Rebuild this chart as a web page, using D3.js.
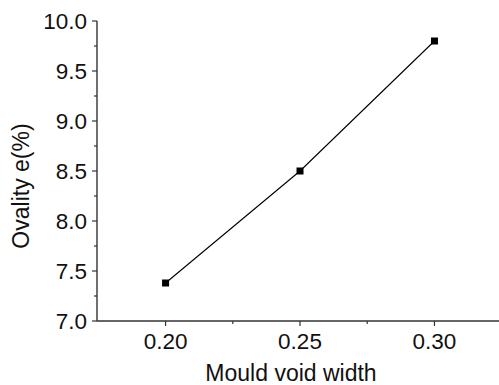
<!DOCTYPE html>
<html>
<head>
<meta charset="utf-8">
<script src="https://cdn.jsdelivr.net/npm/d3@7"></script>
<style>
  body { margin: 0; background: #fff; }
  svg { display: block; }
  text { font-family: "Liberation Sans", Arial, sans-serif; fill: #111; }
</style>
</head>
<body>
<svg id="chart" width="499" height="385"></svg>
<script>
// data
const voidWidth = [0.20, 0.25, 0.30];
const ovality = [7.38, 8.5, 9.8];
const xTicks = [0.20, 0.25, 0.30];
const xMinor = [0.225, 0.275];
const yTicks = [7.0, 7.5, 8.0, 8.5, 9.0, 9.5, 10.0];
const yMinor = [7.25, 7.75, 8.25, 8.75, 9.25, 9.75];

const svg = d3.select("#chart");
const plotL = 97, plotR = 499, plotT = 21, plotB = 321;

const x = d3.scaleLinear().domain([0.1745, 0.324]).range([plotL, plotR]);
const y = d3.scaleLinear().domain([7.0, 10.0]).range([plotB, plotT]);

const axisColor = "#333";
const fs = 22.5;

// x axis
const gx = svg.append("g").attr("transform", `translate(0,${plotB})`);
gx.append("line").attr("x1", plotL).attr("x2", plotR)
  .attr("stroke", axisColor).attr("stroke-width", 1.4);
gx.selectAll(".maj").data(xTicks).join("line").attr("class", "maj")
  .attr("x1", d => x(d)).attr("x2", d => x(d))
  .attr("y1", 0).attr("y2", 5)
  .attr("stroke", axisColor).attr("stroke-width", 1.2);
gx.selectAll(".min").data(xMinor).join("line").attr("class", "min")
  .attr("x1", d => x(d)).attr("x2", d => x(d))
  .attr("y1", 0).attr("y2", 3)
  .attr("stroke", axisColor).attr("stroke-width", 1.2);
gx.selectAll("text").data(xTicks).join("text")
  .attr("x", d => x(d)).attr("y", 28)
  .attr("text-anchor", "middle")
  .style("font-size", fs + "px")
  .text(d => d3.format(".2f")(d));

// y axis
const gy = svg.append("g").attr("transform", `translate(${plotL},0)`);
gy.append("line").attr("y1", plotT).attr("y2", plotB)
  .attr("stroke", axisColor).attr("stroke-width", 1.4);
gy.selectAll(".maj").data(yTicks).join("line").attr("class", "maj")
  .attr("y1", d => y(d)).attr("y2", d => y(d))
  .attr("x1", 0).attr("x2", -5)
  .attr("stroke", axisColor).attr("stroke-width", 1.2);
gy.selectAll(".min").data(yMinor).join("line").attr("class", "min")
  .attr("y1", d => y(d)).attr("y2", d => y(d))
  .attr("x1", 0).attr("x2", -3)
  .attr("stroke", axisColor).attr("stroke-width", 1.2);
gy.selectAll("text").data(yTicks).join("text")
  .attr("x", -10).attr("y", d => y(d))
  .attr("dy", "0.36em")
  .attr("text-anchor", "end")
  .style("font-size", fs + "px")
  .text(d => d3.format(".1f")(d));

// axis titles
svg.append("text")
  .attr("x", 291).attr("y", 381)
  .attr("text-anchor", "middle")
  .style("font-size", "23px")
  .text("Mould void width");

svg.append("text")
  .attr("transform", "translate(29,186) rotate(-90)")
  .attr("text-anchor", "middle")
  .style("font-size", "23px")
  .text("Ovality e(%)");

// series
const pts = voidWidth.map((v, i) => [v, ovality[i]]);
svg.append("path")
  .datum(pts)
  .attr("fill", "none")
  .attr("stroke", "#000")
  .attr("stroke-width", 1.1)
  .attr("d", d3.line().x(d => x(d[0])).y(d => y(d[1])));

svg.selectAll(".pt").data(pts).join("rect").attr("class", "pt")
  .attr("x", d => x(d[0]) - 3.5)
  .attr("y", d => y(d[1]) - 3.5)
  .attr("width", 7).attr("height", 7)
  .attr("fill", "#000");
</script>
</body>
</html>
